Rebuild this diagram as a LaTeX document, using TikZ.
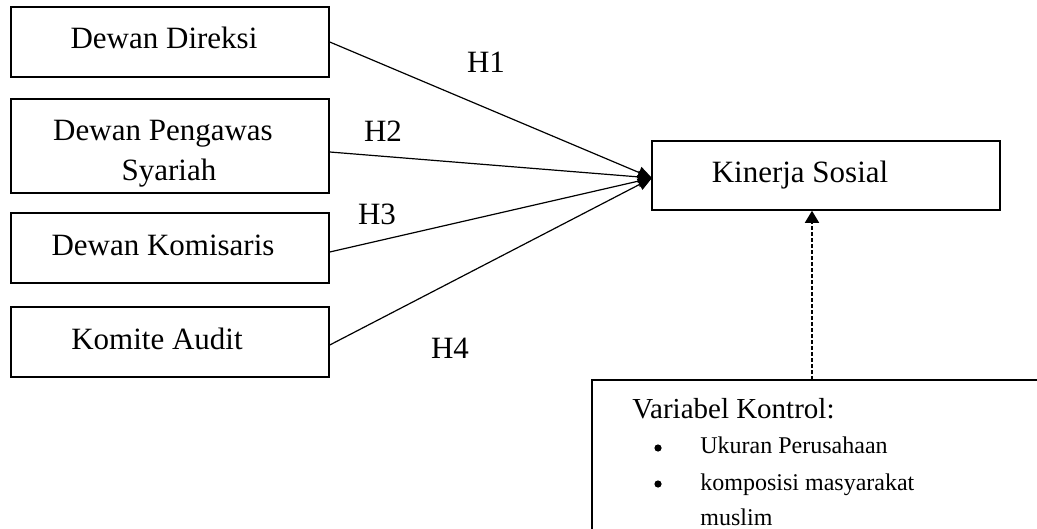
\documentclass[tikz,border=0pt]{standalone}
\usepackage{fontspec}
\setmainfont{Liberation Serif}
\usetikzlibrary{arrows.meta}
\begin{document}
\begin{tikzpicture}[x=0.5pt,y=-0.5pt,
  box/.style={draw,line width=0.75pt,inner sep=0pt,minimum width=159pt},
  txt/.style={font=\fontsize{15.5}{20}\selectfont,anchor=base,inner sep=0pt},
  conn/.style={line width=0.6pt,-{Triangle[length=7pt,width=6pt]}},
  small/.style={font=\fontsize{12}{14}\selectfont,anchor=base west,inner sep=0pt},
  dot/.style={circle,fill,inner sep=0pt,minimum size=3.6pt}]
\clip (0,0) rectangle (1037,529);
\node[box,minimum height=35pt] (b1) at (170,42) {};
\node[box,minimum height=47pt] (b2) at (170,146) {};
\node[box,minimum height=35pt] (b3) at (170,248) {};
\node[box,minimum height=35pt] (b4) at (170,342) {};
\node[box,minimum width=174pt,minimum height=34.5pt] (k) at (826,175.5) {};
\node[txt] (t1) at (164,49) {Dewan Direksi};
\node[txt] (t2a) at (163,141) {Dewan Pengawas};
\node[txt] (t2b) at (169,181) {Syariah};
\node[txt] (t3) at (163,255) {Dewan Komisaris};
\node[txt] (t4) at (157,349) {Komite Audit};
\node[txt] (tk) at (800,183) {Kinerja Sosial};
\coordinate (t) at (652,178);
\draw[conn] (b1.east) -- (t);
\draw[conn] ([yshift=-3pt]b2.east) -- (t);
\draw[conn] ([yshift=-2pt]b3.east) -- (t);
\draw[conn] ([yshift=-1.5pt]b4.east) -- (t);
\node[txt] (h1) at (486,73) {H1};
\node[txt] (h2) at (383,142) {H2};
\node[txt] (h3) at (377,225) {H3};
\node[txt] (h4) at (450,358) {H4};
% control box
\draw[line width=0.75pt] (1050,380) -- (592,380) -- (592,545);
\coordinate (c) at (812,380);
\draw[line width=0.7pt,dash pattern=on 2pt off 1pt,-{Triangle[length=6pt,width=7pt]}] (c) -- (k.south -| c);
\node[anchor=base west,inner sep=0pt,font=\fontsize{14.5}{16}\selectfont] (vk) at (632,418) {Variabel Kontrol:};
\node[dot] (d1) at (658,448) {};
\node[small] (u1) at (700,453) {Ukuran Perusahaan};
\node[dot] (d2) at (658,484) {};
\node[small] (u2) at (700,490) {komposisi masyarakat};
\node[small] (u3) at (700,525) {muslim};
\end{tikzpicture}
\end{document}
